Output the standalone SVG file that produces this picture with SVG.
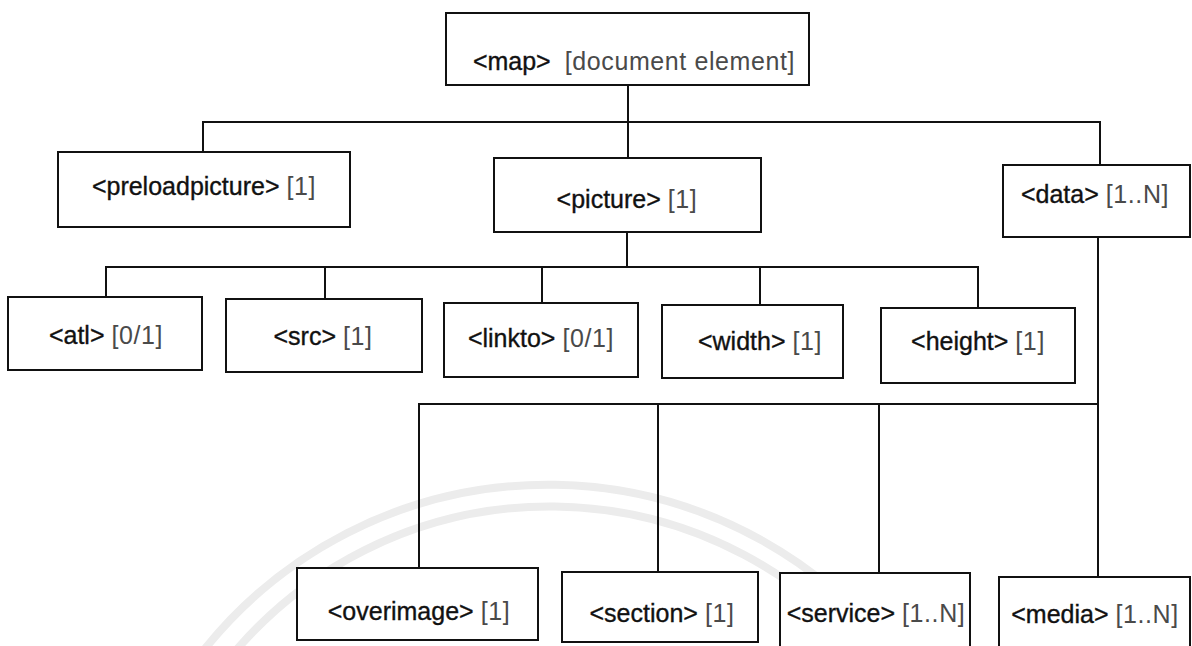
<svg xmlns="http://www.w3.org/2000/svg" width="1192" height="646" viewBox="0 0 1192 646">
  <style>
    .box { fill: #ffffff; stroke: #111111; stroke-width: 2; }
    .wire { fill: none; stroke: #111111; stroke-width: 2; }
    .wm { fill: none; stroke: #ececec; stroke-width: 8; }
    text { font-family: "Liberation Sans", Arial, sans-serif; font-size: 25px; text-anchor: middle; }
    .tag { fill: #111111; stroke: #111111; stroke-width: 0.35; }
    .card { fill: #4a4a4a; letter-spacing: 0.6px; }
  </style>
  <rect x="0" y="0" width="1192" height="646" fill="#ffffff"/>

  <g id="watermark">
    <path class="wm" d="M 200 655 A 440 440 0 0 1 905 668"/>
    <path class="wm" d="M 228 660 A 414 414 0 0 1 878 668"/>
  </g>

  <g id="connectors">
    <path class="wire" d="M 628 85 V 122"/>
    <path class="wire" d="M 203 152 V 122 H 1100 V 165"/>
    <path class="wire" d="M 628 122 V 158"/>
    <path class="wire" d="M 627 232 V 267"/>
    <path class="wire" d="M 106 297 V 267 H 978 V 308"/>
    <path class="wire" d="M 325 267 V 299"/>
    <path class="wire" d="M 542 267 V 303"/>
    <path class="wire" d="M 760 267 V 305"/>
    <path class="wire" d="M 1098 237 V 577"/>
    <path class="wire" d="M 419 568 V 404 H 1098"/>
    <path class="wire" d="M 658 404 V 572"/>
    <path class="wire" d="M 879 404 V 573"/>
  </g>

  <g id="node-map">
    <rect class="box" x="446" y="13" width="363" height="72"/>
    <text x="634" y="70"><tspan class="tag">&lt;map&gt;</tspan><tspan class="card" dx="14">[document element]</tspan></text>
  </g>
  <g id="node-preloadpicture">
    <rect class="box" x="58" y="152" width="292" height="75"/>
    <text x="204" y="195"><tspan class="tag">&lt;preloadpicture&gt;</tspan> <tspan class="card">[1]</tspan></text>
  </g>
  <g id="node-picture">
    <rect class="box" x="494" y="158" width="267" height="74"/>
    <text x="627" y="208"><tspan class="tag">&lt;picture&gt;</tspan> <tspan class="card">[1]</tspan></text>
  </g>
  <g id="node-data">
    <rect class="box" x="1003" y="165" width="187" height="72"/>
    <text x="1095" y="203"><tspan class="tag">&lt;data&gt;</tspan> <tspan class="card">[1..N]</tspan></text>
  </g>

  <g id="node-atl">
    <rect class="box" x="8" y="297" width="194" height="73"/>
    <text x="106" y="344"><tspan class="tag">&lt;atl&gt;</tspan> <tspan class="card">[0/1]</tspan></text>
  </g>
  <g id="node-src">
    <rect class="box" x="226" y="299" width="196" height="73"/>
    <text x="323" y="345"><tspan class="tag">&lt;src&gt;</tspan> <tspan class="card">[1]</tspan></text>
  </g>
  <g id="node-linkto">
    <rect class="box" x="444" y="303" width="194" height="74"/>
    <text x="541" y="347"><tspan class="tag">&lt;linkto&gt;</tspan> <tspan class="card">[0/1]</tspan></text>
  </g>
  <g id="node-width">
    <rect class="box" x="662" y="305" width="181" height="73"/>
    <text x="760" y="350"><tspan class="tag">&lt;width&gt;</tspan> <tspan class="card">[1]</tspan></text>
  </g>
  <g id="node-height">
    <rect class="box" x="881" y="308" width="194" height="75"/>
    <text x="978" y="350"><tspan class="tag">&lt;height&gt;</tspan> <tspan class="card">[1]</tspan></text>
  </g>

  <g id="node-overimage">
    <rect class="box" x="297" y="568" width="241" height="72"/>
    <text x="419" y="620"><tspan class="tag">&lt;overimage&gt;</tspan> <tspan class="card">[1]</tspan></text>
  </g>
  <g id="node-section">
    <rect class="box" x="562" y="572" width="196" height="70"/>
    <text x="662" y="622"><tspan class="tag">&lt;section&gt;</tspan> <tspan class="card">[1]</tspan></text>
  </g>
  <g id="node-service">
    <rect class="box" x="780" y="573" width="190" height="80"/>
    <text x="876" y="622"><tspan class="tag">&lt;service&gt;</tspan> <tspan class="card">[1..N]</tspan></text>
  </g>
  <g id="node-media">
    <rect class="box" x="999" y="577" width="191" height="80"/>
    <text x="1095" y="623"><tspan class="tag">&lt;media&gt;</tspan> <tspan class="card">[1..N]</tspan></text>
  </g>
</svg>
